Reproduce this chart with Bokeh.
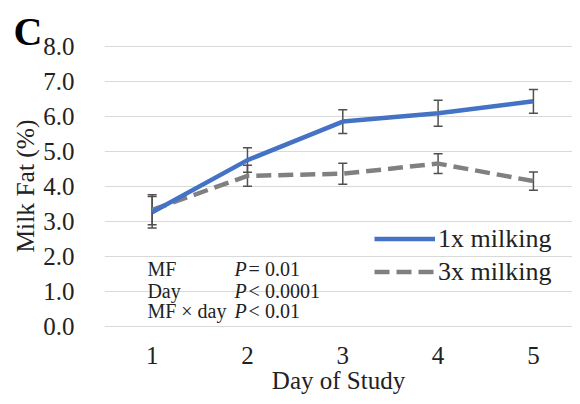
from bokeh.plotting import figure
from bokeh.models import (Range1d, FixedTicker, PrintfTickFormatter, Whisker, TeeHead,
                          ColumnDataSource, Legend, LegendItem, Label)
from bokeh.embed import file_html
from bokeh.resources import INLINE

days = [1, 2, 3, 4, 5]
y_ticks = [0, 1, 2, 3, 4, 5, 6, 7, 8]
fat_1x = [3.25, 4.74, 5.84, 6.08, 6.42]
err_1x = [0.45, 0.35, 0.34, 0.37, 0.34]
fat_3x = [3.32, 4.29, 4.35, 4.64, 4.14]
err_3x = [0.43, 0.30, 0.30, 0.28, 0.26]
series_names = ["1x milking", "3x milking"]
stat_terms = ["MF", "Day", "MF \u00d7 day"]
stat_values = ["= 0.01", "< 0.0001", "< 0.01"]
stat_y = [1.62, 0.99, 0.44]
panel_letter = "C"

FONT = "Liberation Serif, Times New Roman, serif"
TXT = "#222222"

p = figure(width=572, height=396, output_backend="svg", toolbar_location=None,
           title=panel_letter,
           x_range=Range1d(0.5, 5.41), y_range=Range1d(-0.1, 8.1),
           min_border_left=104, min_border_right=0, min_border_top=42, min_border_bottom=66)
p.title.text_font = FONT
p.title.text_font_size = "40px"
p.title.text_font_style = "bold"
p.title.text_color = "black"
p.title.align = "left"
p.title.offset = -91
p.title.standoff = -23

p.outline_line_color = None
p.background_fill_color = "white"
p.xgrid.grid_line_color = None
p.ygrid.grid_line_color = "#d9d9d9"
p.ygrid.grid_line_width = 1
p.ygrid.ticker = FixedTicker(ticks=y_ticks)

for ax in (p.xaxis[0], p.yaxis[0]):
    ax.axis_line_color = None
    ax.major_tick_line_color = None
    ax.minor_tick_line_color = None
    ax.major_label_text_font = FONT
    ax.major_label_text_font_size = "25px"
    ax.major_label_text_color = TXT
    ax.axis_label_text_font = FONT
    ax.axis_label_text_font_size = "25px"
    ax.axis_label_text_font_style = "normal"
    ax.axis_label_text_color = TXT

p.yaxis.ticker = FixedTicker(ticks=y_ticks)
p.yaxis.formatter = PrintfTickFormatter(format="%.1f")
p.yaxis.major_label_standoff = 24
p.yaxis.axis_label = "Milk Fat (%)"
p.yaxis.axis_label_text_font_size = "25.5px"
p.yaxis.axis_label_standoff = 0

p.xaxis.ticker = FixedTicker(ticks=days)
p.xaxis.major_label_standoff = 11
p.xaxis.axis_label = "Day of Study"
p.xaxis.axis_label_standoff = 0

src1 = ColumnDataSource(dict(x=days, y=fat_1x,
                             lo=[a - b for a, b in zip(fat_1x, err_1x)],
                             hi=[a + b for a, b in zip(fat_1x, err_1x)]))
src3 = ColumnDataSource(dict(x=days, y=fat_3x,
                             lo=[a - b for a, b in zip(fat_3x, err_3x)],
                             hi=[a + b for a, b in zip(fat_3x, err_3x)]))

r3 = p.line("x", "y", source=src3, line_color="#808080", line_width=4.5, line_dash="15 7")
r1 = p.line("x", "y", source=src1, line_color="#4472c4", line_width=4.5)

for s in (src3, src1):
    w = Whisker(source=s, base="x", lower="lo", upper="hi",
                line_color="#505050", line_width=1.5,
                upper_head=TeeHead(size=9, line_color="#505050", line_width=1.5),
                lower_head=TeeHead(size=9, line_color="#505050", line_width=1.5))
    p.add_layout(w)

legend = Legend(items=[LegendItem(label=series_names[0], renderers=[r1]),
                       LegendItem(label=series_names[1], renderers=[r3])],
                location=(270, 41), orientation="vertical",
                glyph_width=61, glyph_height=33, label_height=33,
                label_standoff=3, padding=0, spacing=0, margin=0,
                border_line_color=None, background_fill_alpha=0,
                label_text_font=FONT, label_text_font_size="26px", label_text_color=TXT)
p.add_layout(legend)

for term, val, yy in zip(stat_terms, stat_values, stat_y):
    p.add_layout(Label(x=0.95, y=yy, text=term, text_font=FONT, text_font_size="20px",
                       text_color=TXT, text_baseline="alphabetic"))
    p.add_layout(Label(x=1.865, y=yy, text="P", text_font=FONT, text_font_size="20px",
                       text_font_style="italic", text_color=TXT, text_baseline="alphabetic"))
    p.add_layout(Label(x=1.865, x_offset=14, y=yy, text=val, text_font=FONT,
                       text_font_size="20px", text_color=TXT, text_baseline="alphabetic"))

open("out.html", "w").write(file_html(p, INLINE))
